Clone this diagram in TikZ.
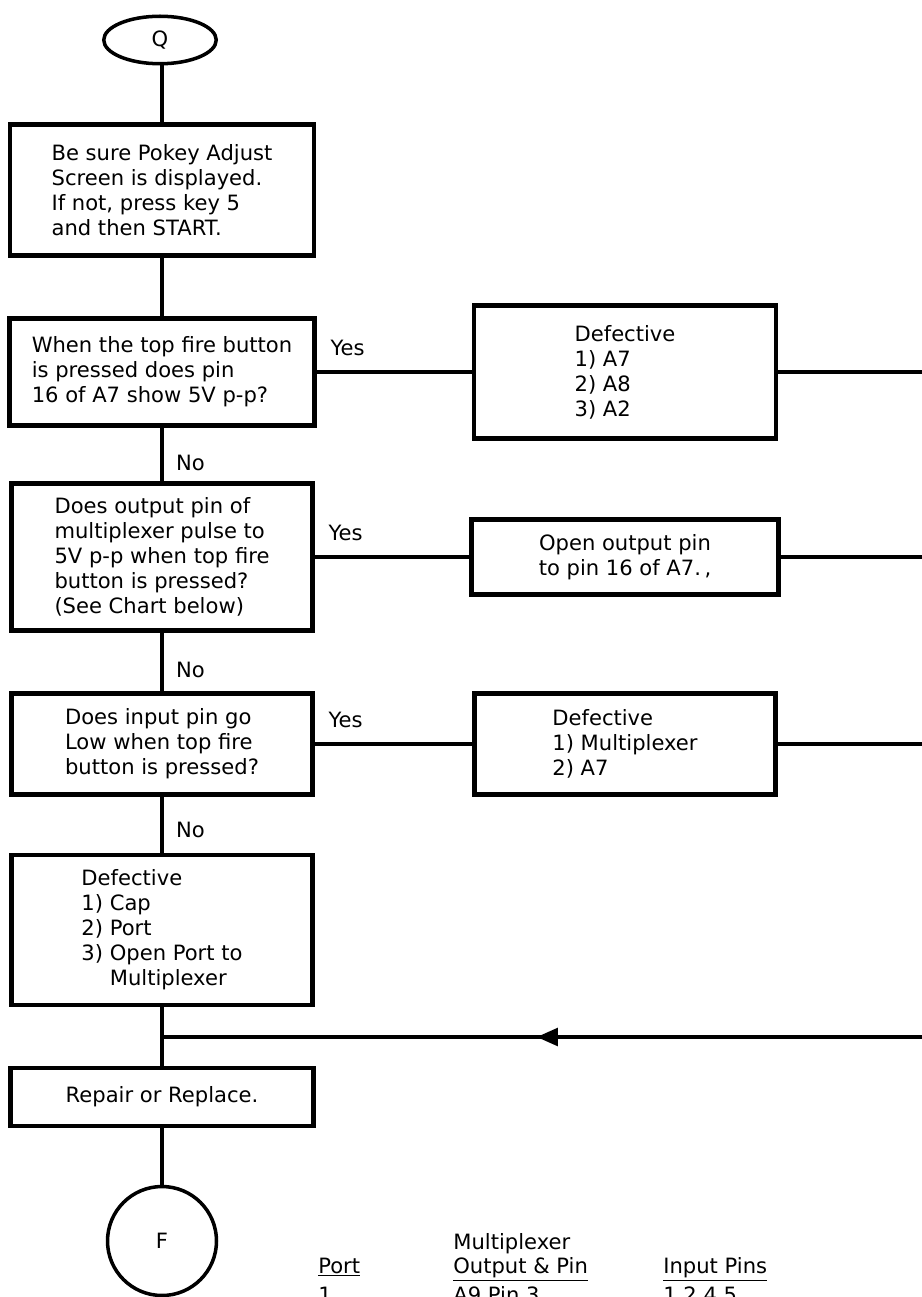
\documentclass[tikz,border=0pt]{standalone}
\usepackage{fontspec}
\setmainfont{DejaVu Sans}
\usetikzlibrary{arrows.meta, positioning, shapes.geometric, decorations.markings}

\begin{document}
\begin{tikzpicture}[x=0.02cm, y=-0.02cm,
    font=\fontsize{12}{14.2}\selectfont,
    box/.style={rectangle, draw, line width=2.4pt, align=left, inner sep=0pt},
    link/.style={line width=2pt},
    lbl/.style={inner sep=0pt},
    terminal/.style={draw, line width=2pt, inner sep=0pt}
  ]
  \path[use as bounding box, fill=white] (0,0) rectangle (922,1297);
  \clip (0,0) rectangle (922,1297);

  % main column
  \node[terminal, ellipse, minimum width=2.25cm, minimum height=0.95cm] (q) at (160,40) {Q};
  \node[box, minimum width=6.08cm, minimum height=2.62cm] (b1) at (162,190)
    {Be sure Pokey Adjust\\Screen is displayed.\\If not, press key 5\\and then START.};
  \node[box, minimum width=6.1cm, minimum height=2.14cm] (b2) at (162,372)
    {When the top fire button\\is pressed does pin\\16 of A7 show 5V p-p?};
  \node[box, minimum width=6.02cm, minimum height=2.94cm] (b3) at (162,557)
    {Does output pin of\\multiplexer pulse to\\5V p-p when top fire\\button is pressed?\\(See Chart below)};
  \node[box, minimum width=6.02cm, minimum height=2.02cm] (b4) at (162,744)
    {Does input pin go\\Low when top fire\\button is pressed?};
  \node[box, minimum width=6.02cm, minimum height=3.0cm] (b5) at (162,930)
    {Defective\\1) Cap\\2) Port\\3) Open Port to\\\hphantom{3) }Multiplexer};
  \node[box, minimum width=6.06cm, minimum height=1.16cm, align=center] (b6) at (162,1097)
    {Repair or Replace.};
  \node[terminal, circle, minimum size=2.18cm] (f) at (162,1241) {F};

  % right column
  \node[box, minimum width=6.04cm, minimum height=2.66cm] (d1) at (625,372)
    {Defective\\1) A7\\2) A8\\3) A2};
  \node[box, minimum width=6.14cm, minimum height=1.5cm, align=center] (op) at (625,557)
    {Open output pin\\to pin 16 of A7.\,,};
  \node[box, minimum width=6.02cm, minimum height=2.02cm] (d3) at (625,744)
    {Defective\\1) Multiplexer\\2) A7};

  \coordinate (r1) at (922,372);
  \coordinate (r2) at (922,557);
  \coordinate (r3) at (922,744);
  \coordinate (r4) at (922,1037);
  \coordinate (j) at (162,1037);

  % connectors
  \draw[link] (q.south -| b1.north) -- (b1);
  \draw[link] (b1) -- (b2);
  \draw[link] (b2) -- node[lbl, pos=0.65, anchor=west, xshift=7pt] {No} (b3);
  \draw[link] (b3) -- node[lbl, pos=0.63, anchor=west, xshift=7pt] {No} (b4);
  \draw[link] (b4) -- node[lbl, pos=0.6, anchor=west, xshift=7pt] {No} (b5);
  \draw[link] (b5) -- (j) -- (b6);
  \draw[link] (b6) -- (f);

  \draw[link] (b2) -- node[lbl, pos=0, anchor=south west, shift={(7pt,8pt)}] {Yes} (d1);
  \draw[link] (b3) -- node[lbl, pos=0, anchor=south west, shift={(7pt,8pt)}] {Yes} (op);
  \draw[link] (b4) -- node[lbl, pos=0, anchor=south west, shift={(7pt,8pt)}] {Yes} (d3);
  \draw[link] (d1) -- (r1);
  \draw[link] (op) -- (r2);
  \draw[link] (d3) -- (r3);
  \draw[link, postaction={decorate}, decoration={markings,
      mark=at position 0.507 with {\arrow{Triangle[length=12pt, width=10pt]}}}] (r4) -- (j);

  % chart
  \node[lbl, anchor=base west] (hport) at (318,1273) {\underline{Port}};
  \node[lbl, anchor=base west] (hmux) at (453,1249) {Multiplexer};
  \node[lbl, anchor=base west] (hout) at (453,1273) {\underline{Output \& Pin}};
  \node[lbl, anchor=base west] (hin) at (663,1273) {\underline{Input Pins}};
  \node[lbl, anchor=base west] (p1) at (318,1302) {1};
  \node[lbl, anchor=base west] (o1) at (453,1302) {A9 Pin 3};
  \node[lbl, anchor=base west] (i1) at (663,1302) {1,2,4,5};
\end{tikzpicture}
\end{document}
